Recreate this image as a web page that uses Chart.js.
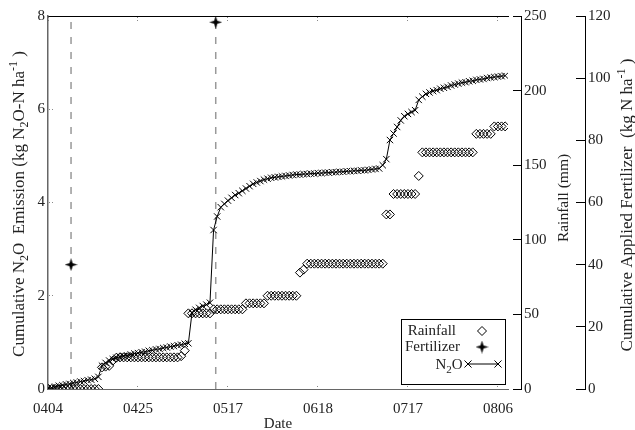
<!DOCTYPE html>
<html>
<head>
<meta charset="utf-8">
<script src="https://cdn.jsdelivr.net/npm/chart.js@4.4.0/dist/chart.umd.min.js"></script>
<style>
  html, body { margin: 0; padding: 0; background: #fff; }
  #wrap { width: 635px; height: 430px; }
</style>
</head>
<body>
<div id="wrap"><canvas id="chart" width="635" height="430"></canvas></div>
<script>
// x = day number counted from 0404 (the axis labels are not evenly spaced dates)
const tickDays = [0, 25, 50, 75, 100, 125];
const tickLabels = ['0404', '0425', '0517', '0618', '0717', '0806'];

// cumulative N2O emission (kg N2O-N/ha), one value per day
const n2o = [
    0.00, 0.03, 0.05, 0.07, 0.08, 0.10, 0.11, 0.13, 0.14, 0.16,
    0.17, 0.19, 0.20, 0.22, 0.26, 0.50, 0.56, 0.61, 0.64, 0.67,
    0.69, 0.71, 0.72, 0.74, 0.76, 0.77, 0.79, 0.80, 0.82, 0.83,
    0.85, 0.86, 0.88, 0.89, 0.91, 0.92, 0.94, 0.95, 0.97, 0.98,
    1.63, 1.70, 1.74, 1.78, 1.81, 1.85, 3.41, 3.70, 3.90, 3.97,
    4.04, 4.10, 4.16, 4.20, 4.25, 4.30, 4.35, 4.40, 4.43, 4.46,
    4.49, 4.51, 4.53, 4.54, 4.55, 4.56, 4.57, 4.58, 4.59, 4.60,
    4.60, 4.61, 4.61, 4.62, 4.62, 4.63, 4.63, 4.64, 4.64, 4.65,
    4.65, 4.66, 4.66, 4.67, 4.67, 4.68, 4.68, 4.69, 4.69, 4.70,
    4.71, 4.72, 4.73, 4.80, 4.93, 5.34, 5.48, 5.62, 5.76, 5.85,
    5.90, 5.94, 5.98, 6.20, 6.27, 6.33, 6.36, 6.39, 6.41, 6.44,
    6.46, 6.48, 6.51, 6.53, 6.55, 6.57, 6.58, 6.60, 6.61, 6.63,
    6.64, 6.65, 6.67, 6.68, 6.69, 6.70, 6.71, 6.72
];

// cumulative rainfall (mm), one value per day
const rainfall = [
    0, 0, 0, 0, 0, 0, 0, 0, 0, 0,
    0, 0, 0, 0, 0, 14.5, 15, 15.5, 19, 21,
    21.2, 21.2, 21.2, 21.2, 21.2, 21.2, 21.2, 21.2, 21.2, 21.2,
    21.2, 21.2, 21.2, 21.2, 21.2, 21.2, 21.2, 22, 25.7, 50.7,
    50.7, 50.7, 50.7, 50.7, 50.7, 50.7, 53.4, 53.4, 53.4, 53.4,
    53.4, 53.4, 53.4, 53.4, 53.4, 57.4, 57.4, 57.4, 57.4, 57.4,
    57.4, 62.5, 62.5, 62.5, 62.5, 62.5, 62.5, 62.5, 62.5, 62.5,
    78, 80, 84, 84, 84, 84, 84, 84, 84, 84,
    84, 84, 84, 84, 84, 84, 84, 84, 84, 84,
    84, 84, 84, 84, 117, 117, 130.7, 130.7, 130.7, 130.7,
    130.7, 130.7, 130.7, 142.8, 158.6, 158.6, 158.6, 158.6, 158.6, 158.6,
    158.6, 158.6, 158.6, 158.6, 158.6, 158.6, 158.6, 158.6, 158.6, 171,
    171, 171, 171, 171, 176, 176, 176, 176
];

// fertilizer applications: day and cumulative amount (kg N/ha)
const fertDays = [6.4, 46.6];
const fertCumulative = [40, 118];

const FONT = 'Liberation Serif';
const TEXT = '#222';

// filled four point star for the fertilizer markers
function makeStar(size) {
    const c = document.createElement('canvas');
    c.width = size;
    c.height = size;
    const g = c.getContext('2d');
    const m = size / 2, k = size * 0.12;
    g.beginPath();
    g.moveTo(m, 0);
    g.lineTo(m + k, m - k);
    g.lineTo(size, m);
    g.lineTo(m + k, m + k);
    g.lineTo(m, size);
    g.lineTo(m - k, m + k);
    g.lineTo(0, m);
    g.lineTo(m - k, m - k);
    g.closePath();
    g.fillStyle = '#000';
    g.fill();
    return c;
}
const star = makeStar(13);

// text with sub/superscript pieces, centred on (x, y)
function drawRich(ctx, parts, x, y, size, rotate) {
    const small = Math.round(size * 0.72);
    ctx.save();
    ctx.translate(x, y);
    if (rotate) ctx.rotate(-Math.PI / 2);
    let total = 0;
    parts.forEach(p => {
        ctx.font = (p[1] ? small : size) + 'px "' + FONT + '"';
        total += ctx.measureText(p[0]).width;
    });
    let cx = -total / 2;
    ctx.textBaseline = 'alphabetic';
    ctx.textAlign = 'left';
    ctx.fillStyle = TEXT;
    const base = size * 0.35;
    parts.forEach(p => {
        ctx.font = (p[1] ? small : size) + 'px "' + FONT + '"';
        let dy = base;
        if (p[1] === 'sub') dy += size * 0.25;
        if (p[1] === 'sup') dy -= size * 0.4;
        ctx.fillText(p[0], cx, dy);
        cx += ctx.measureText(p[0]).width;
    });
    ctx.restore();
}

const titlesAndLegend = {
    id: 'titlesAndLegend',
    afterDraw(chart) {
        const ctx = chart.ctx;
        drawRich(ctx, [['Cumulative N'], ['2', 'sub'], ['O  Emission (kg N'], ['2', 'sub'], ['O-N ha'], ['-1', 'sup'], [' )']], 18, 204, 17, true);
        drawRich(ctx, [['Rainfall (mm)']], 563, 198, 15.5, true);
        drawRich(ctx, [['Cumulative Applied Fertilizer  (kg N ha'], ['-1', 'sup'], [' )']], 626, 205, 17, true);
        drawRich(ctx, [['Date']], 278, 423, 15, false);

        // legend box
        ctx.save();
        ctx.strokeStyle = '#000';
        ctx.lineWidth = 1;
        ctx.strokeRect(401.5, 319.5, 104, 65);
        ctx.font = '15px "' + FONT + '"';
        ctx.fillStyle = TEXT;
        ctx.textAlign = 'right';
        ctx.textBaseline = 'middle';
        ctx.fillText('Rainfall', 456, 331);
        ctx.fillText('Fertilizer', 460, 347);
        ctx.restore();
        drawRich(ctx, [['N'], ['2', 'sub'], ['O']], 449, 364, 15, false);
        ctx.save();
        ctx.strokeStyle = '#000';
        ctx.fillStyle = 'rgba(0,0,0,0)';
        ctx.lineWidth = 1;
        Chart.helpers.drawPoint(ctx, { pointStyle: 'rectRot', radius: 4.5, borderWidth: 1 }, 482, 331);
        ctx.drawImage(star, 482 - 6.5, 347 - 6.5);
        ctx.beginPath();
        ctx.moveTo(468, 364);
        ctx.lineTo(498, 364);
        ctx.stroke();
        Chart.helpers.drawPoint(ctx, { pointStyle: 'crossRot', radius: 5, borderWidth: 1 }, 468, 364);
        Chart.helpers.drawPoint(ctx, { pointStyle: 'crossRot', radius: 5, borderWidth: 1 }, 498, 364);
        ctx.restore();
    }
};

const dottedTicks = { drawOnChartArea: false, drawTicks: true, tickLength: -5, tickColor: '#888', tickBorderDash: [1, 2] };
// keep the chart area from growing to make room for half of the end labels
const noPad = s => { s.paddingTop = 0; s.paddingBottom = 0; };

const datasets = [
    {
        label: 'N2O',
        data: n2o.map((v, i) => ({ x: i, y: v })),
        yAxisID: 'y',
        borderColor: '#000',
        borderWidth: 1,
        pointStyle: 'crossRot',
        pointRadius: 4.5,
        pointBorderColor: '#000',
        pointBorderWidth: 1,
        tension: 0
    },
    {
        label: 'Rainfall',
        data: rainfall.map((v, i) => ({ x: i, y: v })),
        yAxisID: 'yRain',
        showLine: false,
        pointStyle: 'rectRot',
        pointRadius: 4.5,
        pointBorderColor: '#000',
        pointBackgroundColor: 'rgba(0,0,0,0)',
        pointBorderWidth: 1
    },
    {
        label: 'Fertilizer',
        data: fertDays.map((d, i) => ({ x: d, y: fertCumulative[i] })),
        yAxisID: 'yFert',
        showLine: false,
        pointStyle: star,
        pointRadius: 6
    }
];
fertDays.forEach(d => {
    datasets.push({
        label: 'application',
        data: [{ x: d, y: 0 }, { x: d, y: 8 }],
        yAxisID: 'y',
        borderColor: '#999',
        borderWidth: 1.5,
        borderDash: [7, 8],
        pointRadius: 0
    });
});

new Chart(document.getElementById('chart'), {
    type: 'line',
    data: { datasets: datasets },
    options: {
        responsive: false,
        animation: false,
        devicePixelRatio: 1,
        events: [],
        layout: { padding: 0 },
        plugins: { legend: { display: false }, tooltip: { enabled: false } },
        scales: {
            x: {
                type: 'linear',
                position: 'bottom',
                min: 0,
                max: 127.8,
                afterBuildTicks: s => { s.ticks = tickDays.map(v => ({ value: v })); },
                afterFit: s => { s.height = 41; },
                grid: dottedTicks,
                border: { color: '#666', width: 1 },
                ticks: {
                    padding: 16,
                    maxRotation: 0,
                    autoSkip: false,
                    color: TEXT,
                    font: { family: FONT, size: 15 },
                    callback: v => tickLabels[tickDays.indexOf(v)]
                }
            },
            xTop: {
                type: 'linear',
                position: 'top',
                min: 0,
                max: 127.8,
                afterBuildTicks: s => { s.ticks = tickDays.map(v => ({ value: v })); },
                afterFit: s => { s.height = 16; },
                grid: dottedTicks,
                border: { color: '#000', width: 1 },
                ticks: { display: false }
            },
            y: {
                position: 'left',
                min: 0,
                max: 8,
                afterFit: s => { s.width = 48; noPad(s); },
                grid: dottedTicks,
                border: { color: '#666', width: 1.5 },
                ticks: { stepSize: 2, padding: 8, color: TEXT, font: { family: FONT, size: 15 } }
            },
            gap: {
                type: 'linear',
                position: 'right',
                weight: 0,
                afterFit: s => { s.width = 13; noPad(s); },
                grid: { display: false },
                border: { display: false },
                ticks: { display: false }
            },
            yRain: {
                position: 'right',
                weight: 1,
                min: 0,
                max: 250,
                afterFit: s => { s.width = 64; noPad(s); },
                grid: { drawOnChartArea: false, drawTicks: true, tickLength: -8, tickColor: '#000' },
                border: { color: '#000', width: 1 },
                ticks: { stepSize: 50, padding: 11, color: TEXT, font: { family: FONT, size: 15 } }
            },
            yFert: {
                position: 'right',
                weight: 2,
                min: 0,
                max: 120,
                afterFit: s => { s.width = 50; noPad(s); },
                grid: { drawOnChartArea: false, drawTicks: true, tickLength: -9, tickColor: '#000' },
                border: { color: '#000', width: 1 },
                ticks: { stepSize: 20, padding: 12, color: TEXT, font: { family: FONT, size: 15 } }
            }
        }
    },
    plugins: [titlesAndLegend]
});
</script>
</body>
</html>
